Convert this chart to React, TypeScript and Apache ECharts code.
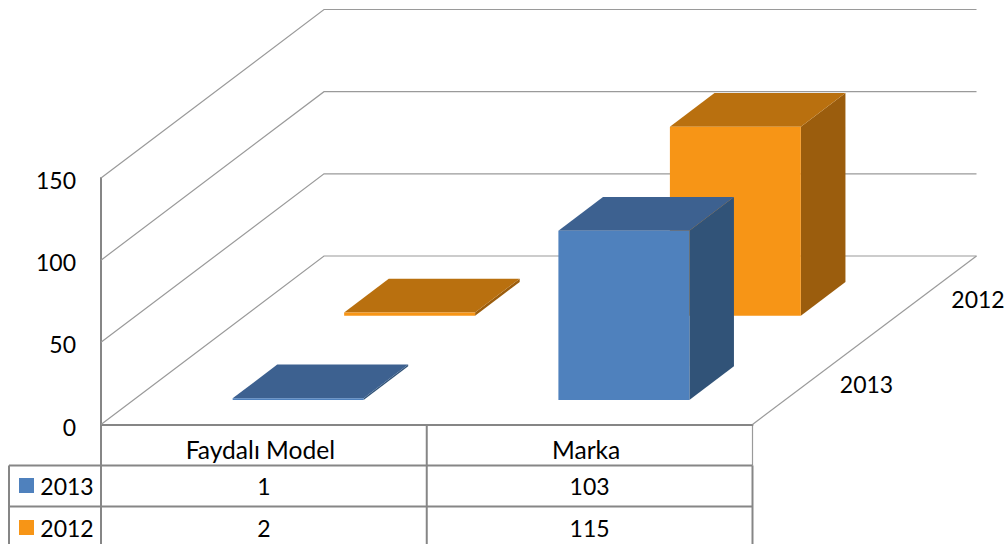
import React, { useEffect, useRef } from "react";
import * as echarts from "echarts";

const categories = ["Faydalı Model", "Marka"];
const years = ["2013", "2012"];
const values2013 = [1, 103];
const values2012 = [2, 115];
const yTicks = [0, 50, 100, 150];

const FONT = "Lato";
const FS = 23;
const CAT_FS = 24.6;
const LINE = "#868686";
const WALL = "#9a9a9a";
const BLUE = { front: "#4F81BD", top: "#3D6190", side: "#315378" };
const ORANGE = { front: "#F79516", top: "#B9700F", side: "#9B5D0D" };

const GRID = { left: 101, top: 178, width: 651.5, height: 246.5 };
const FLOOR_DX = 223;
const FLOOR_DY = -168.5;
const ROWS = 2;
const BAR_WIDTH_SHARE = 0.402;
const BAR_DEPTH_SHARE = 0.4;
const BAR_SHIFT_X = 0.8;
const BAR_SHIFT_Y = 0.7;
const TABLE_TOP = GRID.top + GRID.height;
const ROW_LINES = [465.5, 506.5];
const TABLE_LEFT = 9;
const TABLE_BOTTOM = 544;
const LABEL_CENTER_Y = [486, 528];

function barRenderer(row: number, c: { front: string; top: string; side: string }) {
  return (_: any, api: any) => {
    const cat = api.value(0);
    const base = api.coord([cat, 0]);
    const tip = api.coord([cat, api.value(1)]);
    const w = api.size([1, 0])[0] * BAR_WIDTH_SHARE;
    const rowDx = FLOOR_DX / ROWS;
    const rowDy = FLOOR_DY / ROWS;
    const dx = rowDx * BAR_DEPTH_SHARE;
    const dy = rowDy * BAR_DEPTH_SHARE;
    const ox = rowDx * (row + 0.5) - dx / 2 + BAR_SHIFT_X;
    const oy = rowDy * (row + 0.5) - dy / 2 + BAR_SHIFT_Y;
    const x0 = base[0] + ox - w / 2;
    const x1 = x0 + w;
    const yb = base[1] + oy;
    const yt = tip[1] + oy;
    return {
      type: "group",
      children: [
        { type: "polygon", shape: { points: [[x1, yb], [x1 + dx, yb + dy], [x1 + dx, yt + dy], [x1, yt]] }, style: { fill: c.side } },
        { type: "polygon", shape: { points: [[x0, yt], [x1, yt], [x1 + dx, yt + dy], [x0 + dx, yt + dy]] }, style: { fill: c.top } },
        { type: "polygon", shape: { points: [[x0, yb], [x1, yb], [x1, yt], [x0, yt]] }, style: { fill: c.front } },
      ],
    };
  };
}

function wallRenderer(params: any, api: any) {
  const y = api.coord([0, api.value(1)])[1];
  const sys = params.coordSys;
  return {
    type: "polyline",
    shape: {
      points: [
        [sys.x, y],
        [sys.x + FLOOR_DX, y + FLOOR_DY],
        [sys.x + FLOOR_DX + sys.width + 1, y + FLOOR_DY],
      ],
    },
    style: { fill: "none", stroke: WALL, lineWidth: 1.2 },
  };
}

function floorEdgeRenderer(params: any) {
  const sys = params.coordSys;
  const r = sys.x + sys.width;
  const b = sys.y + sys.height;
  return {
    type: "line",
    shape: { x1: r, y1: b, x2: r + FLOOR_DX + 1, y2: b + FLOOR_DY },
    style: { stroke: WALL, lineWidth: 1.2 },
  };
}

function tableGraphics() {
  const right = GRID.left + GRID.width;
  const mid = GRID.left + GRID.width / 2;
  const line = (x1: number, y1: number, x2: number, y2: number, lineWidth = 2, stroke = LINE) => ({
    type: "line",
    shape: { x1, y1, x2, y2 },
    style: { stroke, lineWidth },
    silent: true,
  });
  const text = (t: string, x: number, y: number, align = "center") => ({
    type: "text",
    x,
    y,
    style: { text: t, fontFamily: FONT, fontSize: FS, fill: "#000", align, verticalAlign: "middle" },
    silent: true,
  });
  const out: any[] = [
    line(GRID.left, TABLE_TOP, GRID.left, TABLE_BOTTOM),
    line(mid, TABLE_TOP, mid, TABLE_BOTTOM),
    line(right, TABLE_TOP, right, ROW_LINES[0], 1.2, WALL),
    line(right, ROW_LINES[0], right, TABLE_BOTTOM),
    line(TABLE_LEFT, ROW_LINES[0], TABLE_LEFT, TABLE_BOTTOM),
    line(TABLE_LEFT, ROW_LINES[0], right, ROW_LINES[0]),
    line(TABLE_LEFT, ROW_LINES[1], right, ROW_LINES[1]),
  ];
  const rows = [values2013, values2012];
  const colours = [BLUE.front, ORANGE.front];
  years.forEach((year, r) => {
    const y = LABEL_CENTER_Y[r];
    out.push({
      type: "rect",
      shape: { x: 19, y: y - 8, width: 15, height: 15 },
      style: { fill: colours[r] },
      silent: true,
    });
    out.push(text(year, 67, y));
    rows[r].forEach((v, c) => {
      out.push(text(String(v), GRID.left + (GRID.width / categories.length) * (c + 0.5), y));
    });
  });
  out.push(text(years[0], 866.5, 384));
  out.push(text(years[1], 978, 299));
  return out;
}

export default function App() {
  const ref = useRef<HTMLDivElement>(null);
  useEffect(() => {
    document.body.style.margin = "0";
    const chart = echarts.init(ref.current!, undefined, { renderer: "svg" });
    chart.setOption({
      animation: false,
      backgroundColor: "#fff",
      grid: { ...GRID, containLabel: false },
      xAxis: {
        type: "category",
        data: categories,
        axisTick: { show: false },
        axisLine: { show: true, lineStyle: { color: LINE, width: 2 } },
        axisLabel: {
          color: "#000",
          fontFamily: FONT,
          fontSize: CAT_FS,
          margin: 12,
          interval: 0,
          formatter: "{c|{value}}",
          rich: { c: { fontFamily: FONT, fontSize: CAT_FS, color: "#000", padding: [0, 7, 0, 0] } },
        },
        splitLine: { show: false },
      },
      yAxis: {
        type: "value",
        min: 0,
        max: 150,
        interval: 50,
        axisTick: { show: false },
        axisLine: { show: true, lineStyle: { color: LINE, width: 2 } },
        axisLabel: {
          color: "#000",
          fontFamily: FONT,
          fontSize: FS,
          margin: 25,
          formatter: "{v|{value}}",
          rich: { v: { fontFamily: FONT, fontSize: FS, color: "#000", padding: [4, 0, 0, 0] } },
        },
        splitLine: { show: false },
      },
      graphic: tableGraphics(),
      series: [
        { type: "custom", name: "walls", data: yTicks.map((t) => [0, t]), renderItem: wallRenderer, encode: { x: 0, y: 1 }, silent: true, z: 1 },
        { type: "custom", name: "floor", data: [[0, 0]], renderItem: floorEdgeRenderer, encode: { x: 0, y: 1 }, silent: true, z: 1 },
        { type: "custom", name: years[1], data: values2012.map((v, i) => [i, v]), renderItem: barRenderer(1, ORANGE), encode: { x: 0, y: 1 }, z: 2 },
        { type: "custom", name: years[0], data: values2013.map((v, i) => [i, v]), renderItem: barRenderer(0, BLUE), encode: { x: 0, y: 1 }, z: 3 },
      ],
    });
    return () => chart.dispose();
  }, []);
  return <div ref={ref} style={{ width: 1008, height: 544 }} />;
}
